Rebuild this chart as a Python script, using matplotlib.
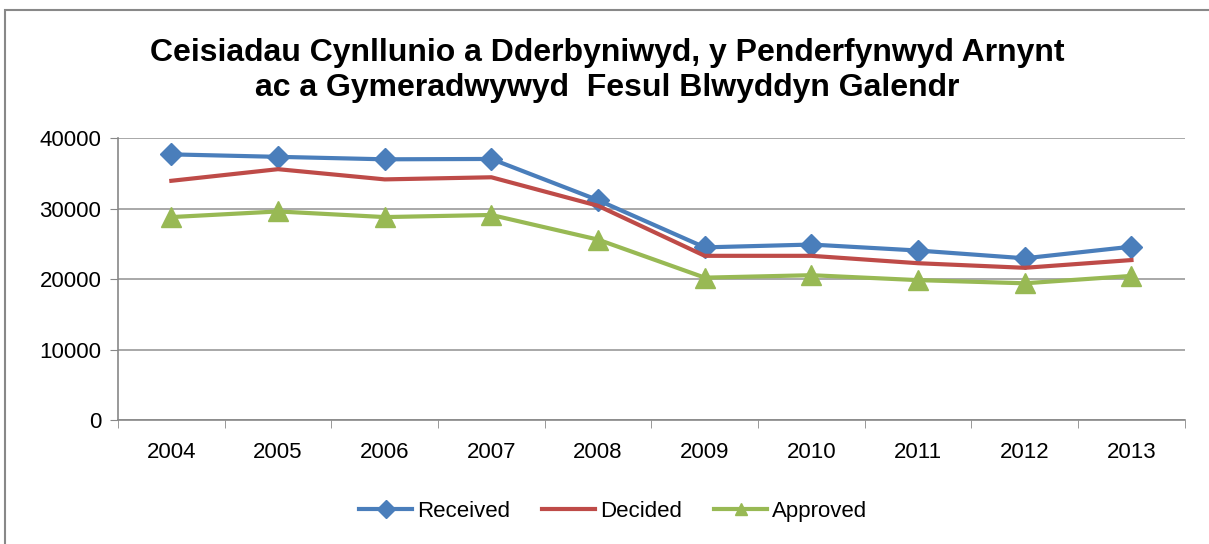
import matplotlib.pyplot as plt
from matplotlib.patches import Rectangle

plt.rcParams['font.family'] = ['Liberation Sans', 'DejaVu Sans']

years = ['2004', '2005', '2006', '2007', '2008', '2009', '2010', '2011', '2012', '2013']
received = [37700, 37350, 37000, 37050, 31200, 24500, 24900, 24050, 22950, 24600]
decided = [33950, 35600, 34150, 34450, 30400, 23300, 23300, 22250, 21600, 22700]
approved = [28800, 29600, 28800, 29100, 25600, 20200, 20550, 19850, 19400, 20450]

title = 'Ceisiadau Cynllunio a Dderbyniwyd, y Penderfynwyd Arnynt\nac a Gymeradwywyd  Fesul Blwyddyn Galendr'

fig = plt.figure(figsize=(12.09, 5.44), dpi=100)
ax = fig.add_axes([0.0976, 0.228, 0.8824, 0.518])

# rahmen o gwmpas y siart
fig.patches.append(Rectangle((5 / 1209, -0.1), 1.2, 1.1 - 10 / 544, transform=fig.transFigure,
                             fill=False, edgecolor='#888888', linewidth=1.5))

x = range(len(years))
ax.plot(x, received, color='#4A7EBB', lw=3, marker='D', markersize=11, label='Received')
ax.plot(x, decided, color='#BE4B48', lw=3, label='Decided')
ax.plot(x, approved, color='#98B954', lw=3, marker='^', markersize=14, label='Approved')

ax.set_ylim(0, 40000)
ax.set_xlim(-0.5, len(years) - 0.5)
ax.set_yticks([0, 10000, 20000, 30000, 40000])
ax.set_xticks(list(x))
ax.set_xticklabels(years)
ax.set_xticks([i - 0.5 for i in range(len(years) + 1)], minor=True)
ax.tick_params(axis='x', which='major', length=0, labelsize=16, pad=16)
ax.tick_params(axis='x', which='minor', length=6, color='#888888', direction='out')
ax.tick_params(axis='y', length=6, color='#888888', labelsize=16, pad=6)
ax.grid(axis='y', color='#999999', lw=1.2)
ax.set_axisbelow(True)
for s in ['top', 'right']:
    ax.spines[s].set_visible(False)
for s in ['left', 'bottom']:
    ax.spines[s].set_color('#888888')
    ax.spines[s].set_linewidth(1.2)

fig.text(0.502, 0.93, title, ha='center', va='top', fontsize=23, fontweight='bold', linespacing=1.2)

leg = ax.legend(loc='center', bbox_to_anchor=(0.464, -0.325), ncol=3, frameon=False,
                fontsize=16, handlelength=2.4, columnspacing=1.45, handletextpad=0.2)
for h in leg.legend_handles:
    h.set_markersize(9)

fig.savefig('out.png', dpi=100)
